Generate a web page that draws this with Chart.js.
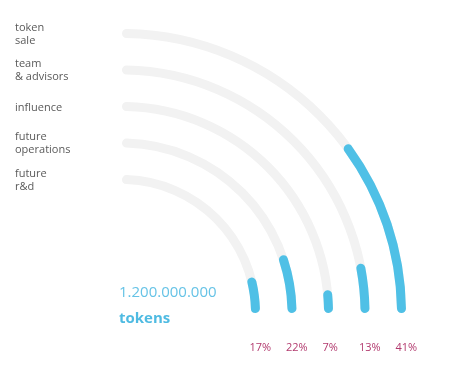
<!DOCTYPE html>
<html>
<head>
<meta charset="utf-8">
<script src="https://cdn.jsdelivr.net/npm/chart.js@4/dist/chart.umd.min.js"></script>
<style>
  html, body { margin: 0; padding: 0; background: #fff; }
  #wrap { position: relative; width: 461px; height: 371px; overflow: hidden; font-family: "Open Sans", sans-serif; }
  #wrap canvas { position: absolute; left: 0; top: 0; }
  .label { position: absolute; left: 15px; font-size: 11px; line-height: 13px; color: #5a5a5a; transform: translateY(-50%); }
  .pct { position: absolute; top: 340px; font-size: 11px; line-height: 14px; color: #b23a6e; }
  #total { position: absolute; left: 119px; top: 281px; font-size: 15px; color: #66c3e6; }
  #unit { position: absolute; left: 119px; top: 307px; font-size: 15px; font-weight: 700; color: #4fbbe2; }
</style>
</head>
<body>
<div id="wrap">
  <canvas id="track" width="461" height="371"></canvas>
  <canvas id="values" width="461" height="371"></canvas>
  <div id="total">1.200.000.000</div>
  <div id="unit">tokens</div>
</div>
<script>
// outer ring first
var categories = [ 'token\nsale', 'team\n& advisors', 'influence', 'future\noperations', 'future\nr&d' ];
var shares = [ 41, 13, 7, 22, 17 ];

var trackColor = '#f2f2f2';
var barColor = '#4fc0e6';
var none = 'rgba(0,0,0,0)';

function buildDatasets( withValues ) {
	var sets = [];
	categories.forEach( function( cat, i ) {
		if ( i > 0 ) {
			// gap between rings
			sets.push( { data: [ 100 ], backgroundColor: [ none ], weight: 27.5, borderWidth: 0 } );
		}
		if ( withValues ) {
			sets.push( {
				label: cat,
				data: [ 100 - shares[ i ], shares[ i ] ],
				backgroundColor: [ none, barColor ],
				weight: 9,
				borderWidth: 0,
				borderRadius: 4.5
			} );
		} else {
			sets.push( {
				label: cat,
				data: [ 100 ],
				backgroundColor: [ trackColor ],
				weight: 9,
				borderWidth: 0,
				borderRadius: 4.5
			} );
		}
	} );
	return sets;
}

function options() {
	return {
		responsive: false,
		animation: false,
		rotation: 0,
		circumference: 90,
		cutout: '45.42%',
		layout: { padding: { left: 122, top: 29, right: 55, bottom: 58 } },
		plugins: { legend: { display: false }, tooltip: { enabled: false } },
		events: []
	};
}

new Chart( document.getElementById( 'track' ), {
	type: 'doughnut',
	data: { labels: [ 'track' ], datasets: buildDatasets( false ) },
	options: options()
} );

var chart = new Chart( document.getElementById( 'values' ), {
	type: 'doughnut',
	data: { labels: [ 'rest', 'share' ], datasets: buildDatasets( true ) },
	options: options()
} );

// place category names and percentages from the ring geometry
var wrap = document.getElementById( 'wrap' );
categories.forEach( function( cat, i ) {
	var arc = chart.getDatasetMeta( i * 2 ).data[ 1 ];
	var mid = ( arc.innerRadius + arc.outerRadius ) / 2;

	var lab = document.createElement( 'div' );
	lab.className = 'label';
	lab.innerHTML = cat.replace( '&', '&amp;' ).replace( '\n', '<br>' );
	lab.style.top = ( arc.y - mid - 1 ) + 'px';
	wrap.appendChild( lab );

	var pct = document.createElement( 'div' );
	pct.className = 'pct';
	pct.textContent = shares[ i ] + '%';
	pct.style.left = ( arc.x + mid - 6 ) + 'px';
	wrap.appendChild( pct );
} );
</script>
</body>
</html>
